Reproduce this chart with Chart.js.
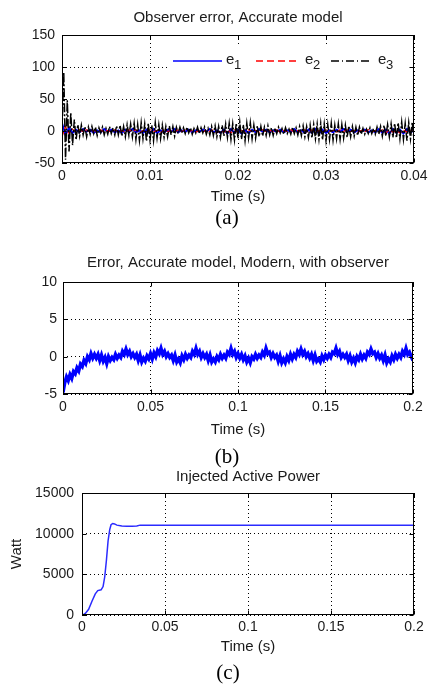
<!DOCTYPE html>
<html><head><meta charset="utf-8">
<script src="https://cdn.jsdelivr.net/npm/chart.js@4.4.1/dist/chart.umd.min.js"></script>
<style>
html,body{margin:0;padding:0;background:#fff;width:430px;height:684px;overflow:hidden;position:relative;}
canvas{position:absolute;left:0;}
.lab{position:absolute;font-family:"Liberation Serif","Times New Roman",serif;font-size:21px;color:#000;transform:translate(-50%,-50%);white-space:nowrap;line-height:1;}
</style></head><body>
<canvas id="ca" width="430" height="210" style="top:0px"></canvas>
<canvas id="cb" width="430" height="203" style="top:240px"></canvas>
<canvas id="cc" width="430" height="192" style="top:468px"></canvas>
<div class="lab" style="left:227px;top:217px">(a)</div>
<div class="lab" style="left:227px;top:456px">(b)</div>
<div class="lab" style="left:228px;top:672px">(c)</div>
<script>
// ---------- DATA ----------
// (a) Observer error, sampled every 0.2 ms (e3) and 0.4 ms (e1, e2)
const stepA3 = 0.0002;
const stepA12 = 0.0004;
const e3Values = [
  0, 92, -45, 48, -32, 28, -22, 18, -14,
  10, -8, 9, -6, 7, -9, 6,
  -5, 7, -4, 6, -7, 5, -3, 6, -6, 4, -5, 7, -4, 5, -6,
  8, -6, 9, -8, 7, -9, 10, -7, 11, -9,
  12, -13, 10, -15, 13, -12, 11, -16, 12, -14, 9, -15, 13, -11, 10,
  -12, 9, -10, 7, -9, 8, -6, 7, -8, 6,
  -4, 6, -3, 5, -4, 6, -3, 5, -5, 4, -3, 6, -4, 5, -3, 6, -5, 4, -6, 7,
  -7, 8, -9, 7, -10, 9, -8, 11, -10, 12,
  -13, 11, -14, 12, -12, 14, -13, 10, -15, 12, -11, 13, -12, 9, -11,
  8, -9, 7, -8, 6, -7, 8, -6, 5, -7,
  5, -4, 6, -3, 4, -5, 5, -4, 3, -5, 6, -4, 5, -6, 7,
  -7, 8, -9, 7, -10, 9, -11, 10, -12, 11,
  -13, 12, -14, 11, -15, 10, -13, 12, -14, 9, -12, 11, -13, 10, -11,
  9, -10, 8, -9, 7, -8, 6, -7, 6, -5,
  4, -5, 3, -4, 5, -4, 4, -5, 6, -5,
  7, -8, 9, -8, 10, -9, 11, -10, 12, -11,
  13, -12, 14, -13, 12, -15, 13, -12, 14, -13
];
const e1Values = [
  12, -6, 5, -3, 2, -2, 3, -1, 2, -3,
  1, -2, 3, -1, 2, -2, 1, -3, 2, -1,
  3, -2, 1, -3, 2, -4, 3, -3, 1, -2,
  2, -1, 3, -2, 1, -1, 2, -2, 1, -1,
  2, -1, 3, -2, 1, -3, 2, -4, 3, -3,
  2, -4, 1, -3, 2, -2, 3, -1, 2, -2,
  1, -1, 2, -2, 1, -1, 3, -2, 1, -3,
  2, -3, 3, -4, 2, -3, 1, -2, 2, -1,
  3, -1, 2, -2, 1, -1, 2, -2, 1, -2,
  3, -3, 2, -4, 3, -3, 2, -4, 3, -2,
  1
];
const e2Values = [
  -9, 7, -4, 3, -2, 2, -1, 2, -2, 1,
  -1, 2, -2, 1, -2, 2, -1, 1, -2, 2,
  -1, 2, -3, 1, -2, 2, -1, 1, -3, 2,
  -1, 1, -2, 2, -1, 2, -1, 1, -2, 1,
  -2, 2, -1, 2, -3, 1, -2, 2, -3, 2,
  -2, 1, -2, 2, -1, 1, -2, 2, -1, 1,
  -1, 2, -2, 1, -1, 2, -2, 1, -2, 2,
  -3, 2, -2, 1, -3, 2, -1, 1, -2, 2,
  -1, 2, -1, 1, -2, 1, -1, 2, -2, 1,
  -2, 2, -3, 2, -2, 1, -3, 2, -2, 1,
  -1
];
const seriesLabelsA = ['1', '2', '3'];

// (b) Error, sampled every 1 ms
const stepB = 0.001;
const errBValues = [
  -4.8, -3.5, -2.7, -3.2, -2.4, -2.9, -2.0, -2.3, -1.5, -1.9,
  -1.0, -1.3, -0.5, -0.9, 0.0, -0.4, 0.4, -0.2, 0.3, -0.2,
  0.3, -0.5, 0.2, -0.6, -0.1, -0.9, 0.0, -0.5, -0.1, -0.4,
  0.3, -0.2, 0.2, -0.1, 0.7, 0.3, 1.0, 0.3, 0.7, 0.0,
  0.4, -0.1, 0.3, -0.5, 0.2, -0.7, -0.2, -0.6, 0.1, -0.3,
  0.4, -0.3, 0.5, 0.0, 0.8, 0.4, 1.1, 0.3, 0.7, 0.0,
  0.4, -0.1, 0.2, -0.5, 0.2, -0.7, -0.3, -0.8, 0.1, -0.4,
  0.3, -0.2, 0.2, -0.1, 0.7, 0.3, 1.1, 0.3, 0.7, -0.1,
  0.4, -0.1, 0.3, -0.5, 0.2, -0.7, -0.3, -0.7, 0.0, -0.4,
  0.3, -0.2, 0.2, -0.2, 0.6, 0.3, 1.1, 0.3, 0.7, -0.1,
  0.4, -0.2, 0.3, -0.4, 0.1, -0.7, -0.2, -0.8, 0.0, -0.3,
  0.3, -0.2, 0.2, -0.1, 0.6, 0.2, 1.1, 0.4, 0.6, -0.1,
  0.4, -0.1, 0.2, -0.6, 0.1, -0.8, -0.3, -0.8, 0.0, -0.5,
  0.3, -0.3, 0.3, -0.1, 0.7, 0.3, 1.0, 0.3, 0.7, 0.0,
  0.4, -0.2, 0.3, -0.5, 0.2, -0.6, -0.3, -0.7, 0.1, -0.4,
  0.2, -0.2, 0.3, -0.1, 0.6, 0.4, 1.1, 0.3, 0.7, -0.1,
  0.3, -0.1, 0.3, -0.5, 0.1, -0.7, -0.2, -0.8, 0.0, -0.4,
  0.3, -0.3, 0.2, -0.2, 0.6, 0.3, 1.0, 0.4, 0.6, -0.1,
  0.4, -0.2, 0.2, -0.5, 0.2, -0.8, -0.3, -0.7, 0.1, -0.4,
  0.3, -0.2, 0.3, -0.1, 0.7, 0.3, 1.1, 0.3, 0.6, 0.0,
  -0.5
];

// (c) Injected active power
const powerTimes = [0, 0.001, 0.002, 0.004, 0.006, 0.008, 0.0095, 0.0115, 0.0127, 0.0137, 0.0147, 0.0157, 0.0167, 0.0175, 0.0185, 0.0196, 0.021, 0.024, 0.027, 0.030, 0.033, 0.035, 0.05, 0.1, 0.15, 0.2];
const powerValues = [0, 50, 200, 700, 1700, 2600, 3000, 3100, 3500, 4700, 6700, 9100, 10500, 11100, 11250, 11200, 11050, 10950, 10900, 10900, 10950, 11050, 11050, 11050, 11050, 11050];

// Tick values
const ticksAx = [0, 0.01, 0.02, 0.03, 0.04];
const ticksAy = [-50, 0, 50, 100, 150];
const ticksBx = [0, 0.05, 0.1, 0.15, 0.2];
const ticksBy = [-5, 0, 5, 10];
const ticksCx = [0, 0.05, 0.1, 0.15, 0.2];
const ticksCy = [0, 5000, 10000, 15000];

const titleA = 'Observer error, Accurate model';
const titleB = 'Error, Accurate model, Modern, with observer';
const titleC = 'Injected Active Power';
const xLabel = 'Time (s)';
const yLabelC = 'Watt';

// ---------- HELPERS ----------
const FONT = '"Liberation Sans", Arial, Helvetica, sans-serif';
const TXT = '#1a1a1a';
const toPts = (vals, step) => vals.map((v, i) => ({x: i * step, y: v}));
const zip = (xs, ys) => xs.map((x, i) => ({x, y: ys[i]}));
const fmt = v => String(parseFloat(Number(v).toFixed(4)));

const matlabBox = {
  id: 'matlabBox',
  afterDraw(chart, args, opts) {
    const {ctx, chartArea: a, scales} = chart;
    const L = Math.round(a.left) + 0.5, R = Math.round(a.right) - 0.5;
    const T = Math.round(a.top) + 0.5, B = Math.round(a.bottom) - 0.5;
    ctx.save();
    ctx.setLineDash([]);
    ctx.strokeStyle = '#000';
    ctx.lineWidth = 1;
    ctx.strokeRect(L, T, R - L, B - T);
    const tl = 4;
    ctx.beginPath();
    scales.x.ticks.forEach(t => {
      const p = Math.round(scales.x.getPixelForValue(t.value)) + 0.5;
      ctx.moveTo(p, B); ctx.lineTo(p, B - tl);
      ctx.moveTo(p, T); ctx.lineTo(p, T + tl);
    });
    scales.y.ticks.forEach(t => {
      const p = Math.round(scales.y.getPixelForValue(t.value)) + 0.5;
      ctx.moveTo(L, p); ctx.lineTo(L + tl, p);
      ctx.moveTo(R, p); ctx.lineTo(R - tl, p);
    });
    ctx.stroke();
    if (opts.title) {
      ctx.fillStyle = TXT;
      ctx.font = '15px ' + FONT;
      ctx.textAlign = 'center';
      ctx.textBaseline = 'middle';
      ctx.fillText(opts.title, (a.left + a.right) / 2, opts.titleY);
    }
    if (opts.legend) {
      const lg = opts.legend;
      ctx.fillStyle = '#fff';
      ctx.fillRect(lg.x, lg.y, lg.w, lg.h);
      chart.data.datasets.forEach((ds, i) => {
        const it = lg.items[i];
        ctx.save();
        ctx.strokeStyle = ds.borderColor;
        ctx.lineWidth = 1.3;
        ctx.setLineDash(ds.legendDash || []);
        ctx.beginPath();
        ctx.moveTo(it.x0, lg.lineY); ctx.lineTo(it.x1, lg.lineY);
        ctx.stroke();
        ctx.restore();
        ctx.fillStyle = TXT;
        ctx.textAlign = 'left';
        ctx.textBaseline = 'alphabetic';
        ctx.font = '15px ' + FONT;
        ctx.fillText('e', it.tx, lg.lineY + 3);
        ctx.font = '13px ' + FONT;
        ctx.fillText(ds.label, it.tx + 8, lg.lineY + 8);
      });
    }
    ctx.restore();
  }
};

function axisX(min, max, ticks, h, pad) {
  return {
    type: 'linear', min, max,
    afterBuildTicks: s => { s.ticks = ticks.map(v => ({value: v})); },
    afterFit: s => { s.height = h; s.paddingLeft = 0; s.paddingRight = 0; s.paddingTop = 0; s.paddingBottom = 0; },
    grid: {color: '#000', lineWidth: 1, drawTicks: false},
    border: {display: false, dash: [1, 3]},
    ticks: {padding: pad, color: TXT, font: {family: FONT, size: 14}, callback: v => fmt(v), maxRotation: 0, autoSkip: false},
    title: {display: true, text: xLabel, color: TXT, font: {family: FONT, size: 15}, padding: {top: 0, bottom: 4}}
  };
}
function axisY(min, max, ticks, w, pad, label) {
  const o = {
    type: 'linear', min, max,
    afterBuildTicks: s => { s.ticks = ticks.map(v => ({value: v})); },
    afterFit: s => { s.width = w; s.paddingTop = 0; s.paddingBottom = 0; s.paddingLeft = 0; s.paddingRight = 0; },
    grid: {color: '#000', lineWidth: 1, drawTicks: false},
    border: {display: false, dash: [1, 3]},
    ticks: {padding: pad, color: TXT, font: {family: FONT, size: 14}, callback: v => fmt(v), autoSkip: false}
  };
  if (label) o.title = {display: true, text: label, color: TXT, font: {family: FONT, size: 15}, padding: {top: 8, bottom: 0}};
  return o;
}
function baseOpts(pad, x, y, box) {
  return {
    responsive: false, animation: false, events: [],
    layout: {padding: pad},
    plugins: {legend: {display: false}, title: {display: false}, tooltip: {enabled: false}, matlabBox: box},
    elements: {point: {radius: 0}, line: {tension: 0}},
    scales: {x, y}
  };
}

// ---------- (a) ----------
new Chart(document.getElementById('ca'), {
  type: 'line',
  data: {datasets: [
    {label: seriesLabelsA[0], data: toPts(e1Values, stepA12), borderColor: '#0000ff', borderWidth: 2, order: 2},
    {label: seriesLabelsA[1], data: toPts(e2Values, stepA12), borderColor: '#ff0000', borderWidth: 1.2, borderDash: [5, 3], legendDash: [7, 4], order: 1},
    {label: seriesLabelsA[2], data: toPts(e3Values, stepA3), borderColor: '#000000', borderWidth: 1.5, borderDash: [9, 2, 2, 2], legendDash: [8, 3, 1, 3], order: 0}
  ]},
  options: baseOpts({top: 35, right: 16, left: 0, bottom: 0},
    axisX(0, 0.04, ticksAx, 47, 5), axisY(-50, 150, ticksAy, 62, 7),
    {title: titleA, titleY: 18,
     legend: {x: 168, y: 47, w: 241, h: 31, lineY: 61,
       items: [{x0: 173, x1: 222, tx: 226}, {x0: 256, x1: 300, tx: 305}, {x0: 331, x1: 370, tx: 378}]}}),
  plugins: [matlabBox]
});

// ---------- (b) ----------
new Chart(document.getElementById('cb'), {
  type: 'line',
  data: {datasets: [
    {label: 'error', data: toPts(errBValues, stepB), borderColor: '#0000ff', borderWidth: 3.5}
  ]},
  options: baseOpts({top: 42, right: 17, left: 0, bottom: 0},
    axisX(0, 0.2, ticksBx, 49, 5), axisY(-5, 10, ticksBy, 63, 6),
    {title: titleB, titleY: 23}),
  plugins: [matlabBox]
});

// ---------- (c) ----------
new Chart(document.getElementById('cc'), {
  type: 'line',
  data: {datasets: [
    {label: 'power', data: zip(powerTimes, powerValues), borderColor: '#2b2bff', borderWidth: 1.5}
  ]},
  options: baseOpts({top: 25, right: 16, left: 0, bottom: 0},
    axisX(0, 0.2, ticksCx, 45, 4), axisY(0, 15000, ticksCy, 82, 8, yLabelC),
    {title: titleC, titleY: 9}),
  plugins: [matlabBox]
});
</script>
</body></html>
